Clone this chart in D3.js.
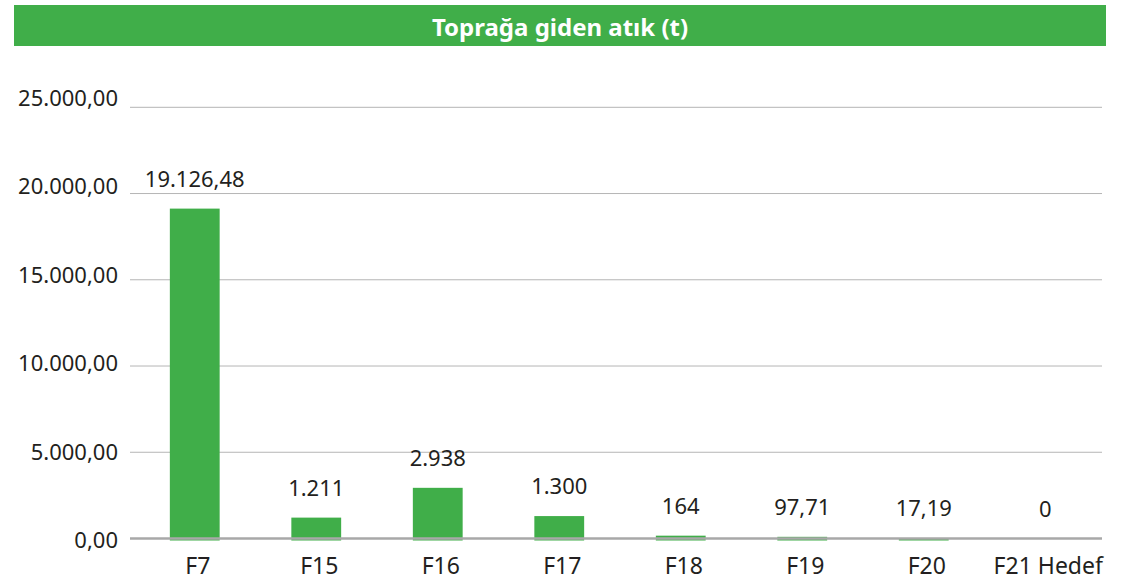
<!DOCTYPE html>
<html>
<head>
<meta charset="utf-8">
<script src="https://cdn.jsdelivr.net/npm/d3@7"></script>
<style>
  body { margin: 0; background: #fff; }
  svg text { font-family: "Noto Sans", "Open Sans", sans-serif; }
</style>
</head>
<body>
<svg id="chart"></svg>
<script>
var width = 1129;
var height = 581;

// chart data
var title = "Toprağa giden atık (t)";
var categories = ["F7", "F15", "F16", "F17", "F18", "F19", "F20", "F21 Hedef"];
var values = [19126.48, 1211, 2938, 1300, 164, 97.71, 17.19, 0];
var yTicks = [0, 5000, 10000, 15000, 20000, 25000];

var green = "#40ae49";
var textColor = "#231f20";

var tr = d3.formatLocale({decimal: ",", thousands: ".", grouping: [3], currency: ["", ""]});
var fmtTick = tr.format(",.2f");
function fmtLabel(v) {
  return Number.isInteger(v) ? tr.format(",.0f")(v) : tr.format(",.2f")(v);
}

var svg = d3.select("#chart").attr("width", width).attr("height", height);

// title bar
svg.append("rect")
  .attr("x", 14).attr("y", 5)
  .attr("width", 1092).attr("height", 41)
  .attr("fill", green);
svg.append("text")
  .attr("x", 560).attr("y", 36)
  .attr("text-anchor", "middle")
  .attr("fill", "#fff")
  .style("font-size", "24px")
  .style("font-weight", "bold")
  .text(title);

var gridLeft = 130, gridRight = 1102;

var x = d3.scaleBand().domain(categories).range([134, 1106]).paddingInner(0.59).paddingOuter(0.295);
var y = d3.scaleLinear().domain([0, 25000]).range([538.5, 107.3]);
// tick labels sit a little off their gridlines in the original
var yLab = d3.scaleLinear().domain([0, 25000]).range([540.5, 98]);

// gridlines
svg.append("g")
  .selectAll("line")
  .data(yTicks.filter(function(d) { return d > 0; }))
  .enter().append("line")
    .attr("x1", gridLeft).attr("x2", gridRight)
    .attr("y1", function(d) { return y(d); })
    .attr("y2", function(d) { return y(d); })
    .attr("stroke", "#b5b5b5")
    .attr("stroke-width", 1);

// y axis labels
var yAxis = d3.axisLeft(yLab).tickValues(yTicks).tickFormat(fmtTick).tickSize(0).tickPadding(0);
var gy = svg.append("g")
  .attr("transform", "translate(118,0)")
  .call(yAxis);
gy.select(".domain").remove();
gy.selectAll("text")
  .attr("fill", textColor)
  .style("font-size", "22px");

// bars
svg.append("g")
  .selectAll("rect")
  .data(values)
  .enter().append("rect")
    .attr("x", function(d, i) { return x(categories[i]); })
    .attr("width", x.bandwidth())
    .attr("y", function(d) { return y(d); })
    .attr("height", function(d) { return d > 0 ? y(0) - y(d) + 2 : 0; })
    .attr("fill", green);

// baseline
svg.append("line")
  .attr("x1", gridLeft).attr("x2", gridRight)
  .attr("y1", y(0)).attr("y2", y(0))
  .attr("stroke", "#a8a8a8")
  .attr("stroke-width", 2.5);

// value labels
svg.append("g")
  .selectAll("text")
  .data(values)
  .enter().append("text")
    .attr("x", function(d, i) { return x(categories[i]) + x.bandwidth() / 2; })
    .attr("y", function(d) { return Math.min(y(d) - 22, 523); })
    .attr("text-anchor", "middle")
    .attr("fill", textColor)
    .style("font-size", "22px")
    .text(fmtLabel);

// category axis
var xAxis = d3.axisBottom(x).tickSize(0).tickPadding(0);
var gx = svg.append("g")
  .attr("transform", "translate(3,558)")
  .call(xAxis);
gx.select(".domain").remove();
gx.selectAll("text")
  .attr("fill", textColor)
  .style("font-size", "23px");
</script>
</body>
</html>
